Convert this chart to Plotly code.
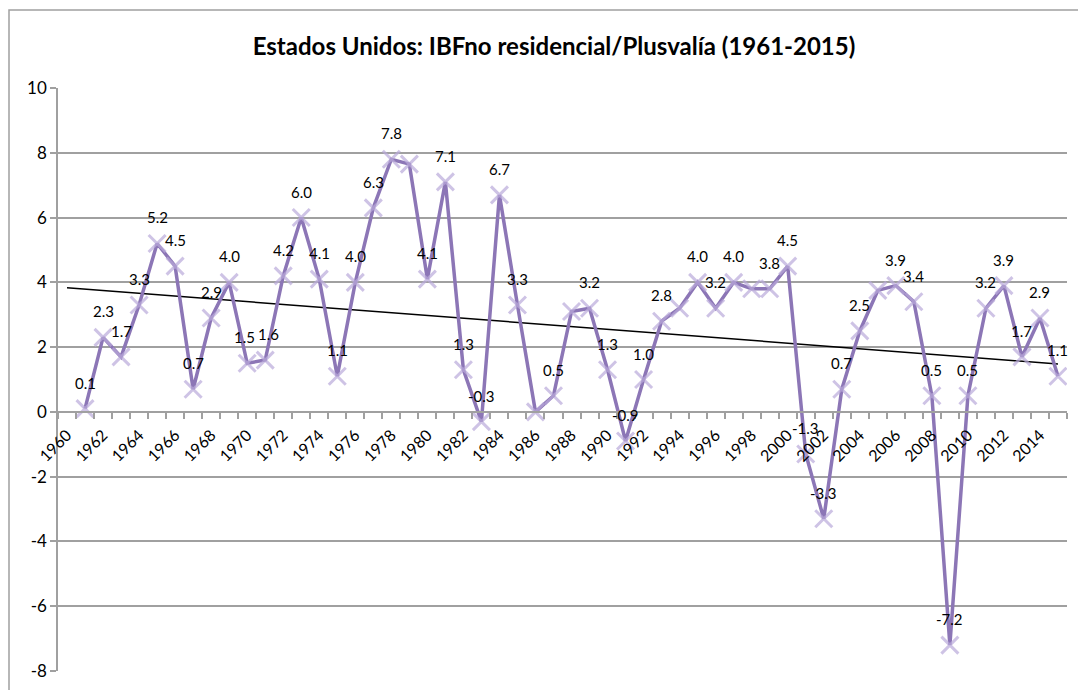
import plotly.graph_objects as go

years = list(range(1961, 2016))
values = [0.1, 2.3, 1.7, 3.3, 5.2, 4.5, 0.7, 2.9, 4.0, 1.5,
          1.6, 4.2, 6.0, 4.1, 1.1, 4.0, 6.3, 7.8, 7.65, 4.1,
          7.1, 1.3, -0.3, 6.7, 3.3, 0.0, 0.5, 3.1, 3.2, 1.3,
          -0.9, 1.0, 2.8, 3.2, 4.0, 3.2, 4.0, 3.8, 3.8, 4.5,
          -1.3, -3.3, 0.7, 2.5, 3.75, 3.9, 3.4, 0.5, -7.2, 0.5,
          3.2, 3.9, 1.7, 2.9, 1.1]
# years whose data label is not shown in the original
unlabeled_years = [1979, 1986, 1988, 1994, 1998, 2005]

trend_years = [1960, 2015]
trend_values = [3.83, 1.48]

tick_years = list(range(1960, 2015, 2))
y_ticks = list(range(-8, 11, 2))

title = "Estados Unidos: IBFno residencial/Plusvalía (1961-2015)"

FONT = "Lato"
fig = go.Figure()

fig.add_trace(go.Scatter(
    x=trend_years, y=trend_values, mode="lines",
    line=dict(color="black", width=1.5), hoverinfo="skip", showlegend=False))

fig.add_trace(go.Scatter(
    x=years, y=values, mode="lines+markers",
    line=dict(color="#8c76b6", width=3.5),
    marker=dict(symbol="x-thin", size=17,
                line=dict(color="rgba(185,170,218,0.7)", width=3)),
    showlegend=False))

# small nudges so neighbouring labels do not collide
label_nudge = {1970: -3, 1971: 3}

for yr, v in zip(years, values):
    if yr in unlabeled_years:
        continue
    fig.add_annotation(x=yr, y=v, text=f"{v:.1f}", showarrow=False,
                       yshift=26, xshift=label_nudge.get(yr, 0),
                       font=dict(family=FONT, size=15, color="black"))

# page body has an 8px margin: figure is 8px smaller and offset
W, H = 1078, 682
L, T, R, B = 50, 80, 19, 19
pw, ph = W - L - R, H - T - B

fig.add_shape(type="rect", xref="paper", yref="paper",
              x0=(1 - L) / pw, x1=1.05, y0=-0.1, y1=1 + (T - 2) / ph,
              line=dict(color="#a0a0a0", width=1.5), layer="below")

fig.update_layout(
    width=W, height=H,
    margin=dict(l=L, r=R, t=T, b=B, autoexpand=False),
    paper_bgcolor="white", plot_bgcolor="white",
    title=dict(text=f"<b>{title}</b>", x=(554 - 8) / W, xanchor="center",
               y=1 - (47 - 8) / H, yanchor="middle",
               font=dict(family=FONT, size=24, color="black")),
    xaxis=dict(range=[1959.5, 2015.5], tickmode="array", tickvals=tick_years,
               ticktext=[str(t) for t in tick_years], tickangle=-45,
               anchor="free", position=8 / 18, automargin=False,
               showgrid=False, zeroline=False,
               showline=True, linecolor="#a0a0a0", linewidth=1.5,
               ticks="outside", ticklen=7, tickcolor="rgba(0,0,0,0)",
               tickfont=dict(family=FONT, size=16, color="black"),
               minor=dict(tick0=1959.5, dtick=1, ticks="outside", ticklen=6,
                          tickcolor="#a0a0a0", tickwidth=1.5, showgrid=False)),
    yaxis=dict(range=[-8, 10], tickmode="array", tickvals=y_ticks,
               ticktext=[str(t) for t in y_ticks],
               showgrid=True, automargin=False,
               gridcolor="#a0a0a0", gridwidth=1.5, zeroline=False,
               showline=True, linecolor="#a0a0a0", linewidth=1.5,
               ticks="outside", ticklen=6, tickcolor="#a0a0a0", tickwidth=1.5,
               tickfont=dict(family=FONT, size=17, color="black")),
)

fig.write_html("out.html")
